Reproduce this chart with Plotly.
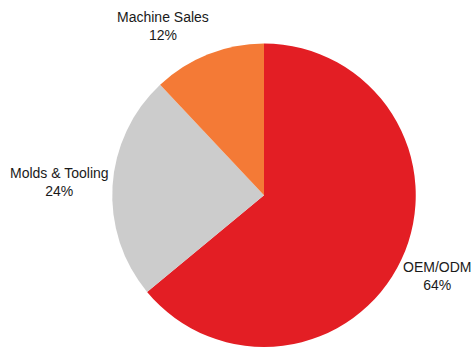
import plotly.graph_objects as go

# Revenue mix by segment
labels = ["OEM/ODM", "Molds & Tooling", "Machine Sales"]
shares = [64, 24, 12]
colors = ["#E31E24", "#CCCCCC", "#F47A36"]

W, H = 471, 347

fig = go.Figure(
    go.Pie(
        labels=labels,
        values=shares,
        marker=dict(colors=colors, line=dict(width=0)),
        sort=False,
        direction="clockwise",
        rotation=0,
        textinfo="none",
        hoverinfo="label+percent",
        domain=dict(x=[112 / W, 416 / W], y=[0, 303.5 / H]),
        showlegend=False,
    )
)

# Label placement (pixel centres of each two-line label)
label_pos = {
    "OEM/ODM": (437, 276),
    "Molds & Tooling": (59, 182),
    "Machine Sales": (163, 26),
}
for name, val in zip(labels, shares):
    px, py = label_pos[name]
    fig.add_annotation(
        x=px / W, y=1 - py / H, xref="paper", yref="paper",
        text=f"{name}<br>{val}%", showarrow=False,
        xanchor="center", yanchor="middle", align="center",
        font=dict(family="Liberation Sans, Arial, sans-serif", size=14, color="#1a1a1a"),
    )

fig.update_layout(
    width=W, height=H,
    margin=dict(l=0, r=0, t=0, b=0),
    paper_bgcolor="white", plot_bgcolor="white",
)

fig.write_html("out.html")
